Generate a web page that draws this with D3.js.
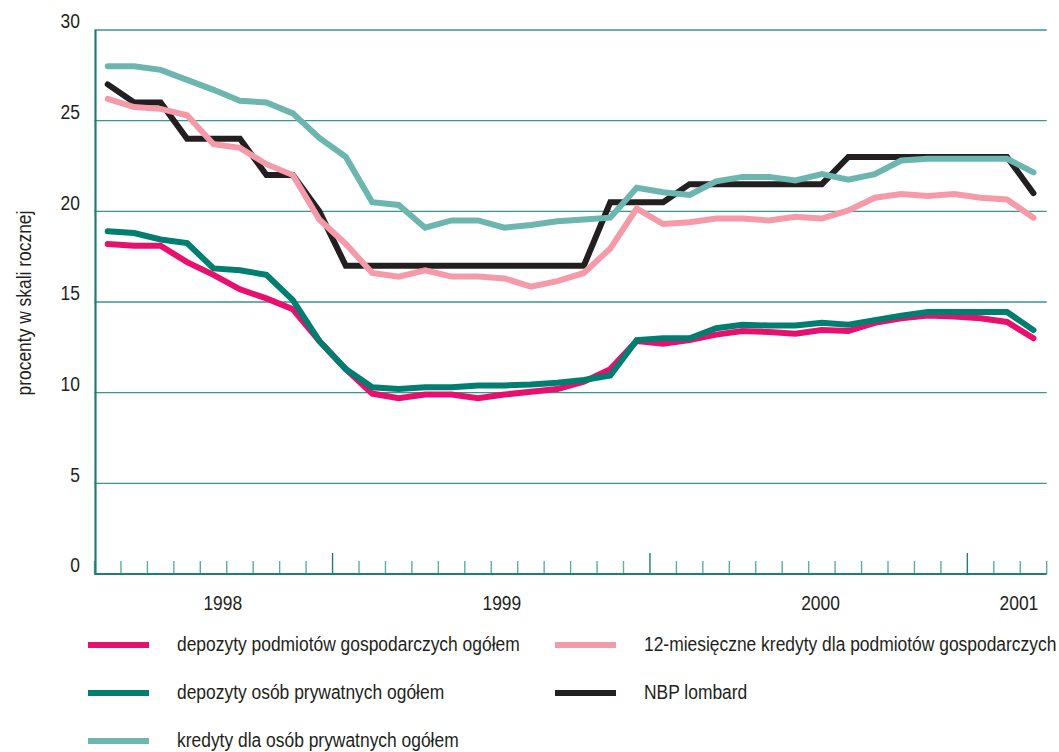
<!DOCTYPE html>
<html>
<head>
<meta charset="utf-8">
<script src="https://cdn.jsdelivr.net/npm/d3@7"></script>
<style>
  body { margin: 0; background: #fff; }
  svg text { font-family: "Liberation Sans", Arial, sans-serif; fill: #231f20; }
</style>
</head>
<body>
<div id="chart"></div>
<script>
// months, Apr 1998 - Mar 2001
const months = [
  "1998-04","1998-05","1998-06","1998-07","1998-08","1998-09","1998-10","1998-11","1998-12",
  "1999-01","1999-02","1999-03","1999-04","1999-05","1999-06","1999-07","1999-08","1999-09","1999-10","1999-11","1999-12",
  "2000-01","2000-02","2000-03","2000-04","2000-05","2000-06","2000-07","2000-08","2000-09","2000-10","2000-11","2000-12",
  "2001-01","2001-02","2001-03"
];

const depozytyPodmiotow = [18.2, 18.1, 18.1, 17.2, 16.5, 15.7, 15.2, 14.6, 12.85,
  11.3, 9.95, 9.7, 9.9, 9.9, 9.7, 9.9, 10.05, 10.2, 10.6, 11.3, 12.85,
  12.7, 12.9, 13.2, 13.4, 13.35, 13.25, 13.45, 13.4, 13.85, 14.1, 14.25, 14.2,
  14.1, 13.9, 13.0];

const depozytyOsob = [18.9, 18.8, 18.45, 18.25, 16.85, 16.75, 16.5, 15.1, 12.85,
  11.3, 10.3, 10.2, 10.3, 10.3, 10.4, 10.4, 10.45, 10.55, 10.7, 10.95, 12.9,
  13.0, 13.0, 13.55, 13.75, 13.7, 13.7, 13.85, 13.75, 14.0, 14.25, 14.45, 14.45,
  14.45, 14.45, 13.45];

const lombard = [27.0, 26.0, 26.0, 24.0, 24.0, 24.0, 22.0, 22.0, 20.0,
  17.0, 17.0, 17.0, 17.0, 17.0, 17.0, 17.0, 17.0, 17.0, 17.0, 20.5, 20.5,
  20.5, 21.5, 21.5, 21.5, 21.5, 21.5, 21.5, 23.0, 23.0, 23.0, 23.0, 23.0,
  23.0, 23.0, 21.0];

const kredyty12m = [26.2, 25.75, 25.65, 25.3, 23.7, 23.5, 22.6, 22.0, 19.55,
  18.2, 16.6, 16.4, 16.75, 16.4, 16.4, 16.3, 15.85, 16.15, 16.6, 17.95, 20.15,
  19.3, 19.4, 19.6, 19.6, 19.5, 19.7, 19.6, 20.05, 20.75, 20.95, 20.85, 20.95,
  20.75, 20.65, 19.65];

const kredytyOsob = [28.0, 28.0, 27.8, 27.25, 26.7, 26.1, 26.0, 25.4, 24.05,
  23.0, 20.5, 20.35, 19.1, 19.5, 19.5, 19.1, 19.25, 19.45, 19.55, 19.65, 21.3,
  21.05, 20.9, 21.65, 21.9, 21.9, 21.7, 22.05, 21.75, 22.05, 22.8, 22.9, 22.9,
  22.9, 22.9, 22.15];

const yTicks = [0, 5, 10, 15, 20, 25, 30];
const yearLabels = ["1998", "1999", "2000", "2001"];
// where the year labels sit, in months counted from Apr 1998
const yearLabelAt = [4.35, 14.9, 26.95, 34.45];

const series = [
  {name: "depozyty podmiotów gospodarczych ogółem", values: depozytyPodmiotow, color: "#e8106e"},
  {name: "depozyty osób prywatnych ogółem", values: depozytyOsob, color: "#007f70"},
  {name: "NBP lombard", values: lombard, color: "#231f20"},
  {name: "12-miesięczne kredyty dla podmiotów gospodarczych", values: kredyty12m, color: "#f59aa9"},
  {name: "kredyty dla osób prywatnych ogółem", values: kredytyOsob, color: "#6cb6af"}
];
// legend order, two columns
const legendOrder = [0, 3, 1, 2, 4];

const W = 1059, H = 752;
const FS = 21, NARROW = 0.83;   // condensed look: regular face squeezed sideways

const svg = d3.select("#chart").append("svg")
    .attr("width", W)
    .attr("height", H);

// text helper, squeezes horizontally around its anchor point
function label(parent, tx, ty, str, anchor, rotate) {
  return parent.append("text")
      .attr("transform", `translate(${tx},${ty})` + (rotate ? ` rotate(${rotate})` : "") + ` scale(${NARROW},1)`)
      .attr("dy", "0.35em")
      .attr("text-anchor", anchor)
      .attr("font-size", FS)
      .text(str);
}

const x = d3.scaleBand()
    .domain(months)
    .range([94.5, 1046.7])
    .padding(0);
const bw = x.bandwidth();
const xc = m => x(m) + bw / 2;

const xIdx = d3.scaleLinear()
    .domain([0, months.length - 1])
    .range([xc(months[0]), xc(months[months.length - 1])]);

const y = d3.scaleLinear()
    .domain([0, 30])
    .range([574, 30]);

const [x0, x1] = x.range();

// gridlines
svg.append("g").selectAll("line")
  .data(yTicks.filter(d => d > 0))
  .enter().append("line")
    .attr("x1", x0).attr("x2", x1)
    .attr("y1", d => y(d)).attr("y2", d => y(d))
    .attr("stroke", "#35988b")
    .attr("stroke-width", 1.4);

// y labels
const yLab = svg.append("g");
yTicks.forEach(d => label(yLab, 80, y(d) - 9, d, "end"));

// y title
label(svg, 24, 303, "procenty w skali rocznej", "middle", -90);

// x ticks at month boundaries
const tickPos = months.map(m => ({pos: x(m), major: m.endsWith("-01")}));
tickPos.push({pos: x1, major: false});
svg.append("g").selectAll("line")
  .data(tickPos)
  .enter().append("line")
    .attr("x1", d => d.pos).attr("x2", d => d.pos)
    .attr("y1", d => d.major ? 553 : 561)
    .attr("y2", 574)
    .attr("stroke", d => d.major ? "#1b7f72" : "#5aaea4")
    .attr("stroke-width", 1.4);

// axes lines
svg.append("line")
    .attr("x1", x0).attr("x2", x1)
    .attr("y1", y(0)).attr("y2", y(0))
    .attr("stroke", "#1b7f72")
    .attr("stroke-width", 2.2);
svg.append("line")
    .attr("x1", x0 + 1).attr("x2", x0 + 1)
    .attr("y1", y(30)).attr("y2", y(0) + 1)
    .attr("stroke", "#1b7f72")
    .attr("stroke-width", 2.2);

// year labels
const yearG = svg.append("g");
yearLabels.forEach((d, i) => label(yearG, xIdx(yearLabelAt[i]), 603, d, "middle"));

// lines
const line = d3.line()
    .x((d, i) => xc(months[i]))
    .y(d => y(d));

series.forEach(s => {
  svg.append("path")
      .datum(s.values)
      .attr("fill", "none")
      .attr("stroke", s.color)
      .attr("stroke-width", 6)
      .attr("stroke-linejoin", "miter")
      .attr("stroke-linecap", "round")
      .attr("d", line);
});

// legend
const legend = svg.append("g");
legendOrder.forEach((si, k) => {
  const s = series[si];
  const col = k % 2, row = Math.floor(k / 2);
  const lx = col === 0 ? 88 : 555;
  const ly = 645 + row * 48;
  legend.append("line")
      .attr("x1", lx).attr("x2", lx + 61)
      .attr("y1", ly).attr("y2", ly)
      .attr("stroke", s.color)
      .attr("stroke-width", 6);
  label(legend, lx + 89, ly - 1, s.name, "start");
});
</script>
</body>
</html>
